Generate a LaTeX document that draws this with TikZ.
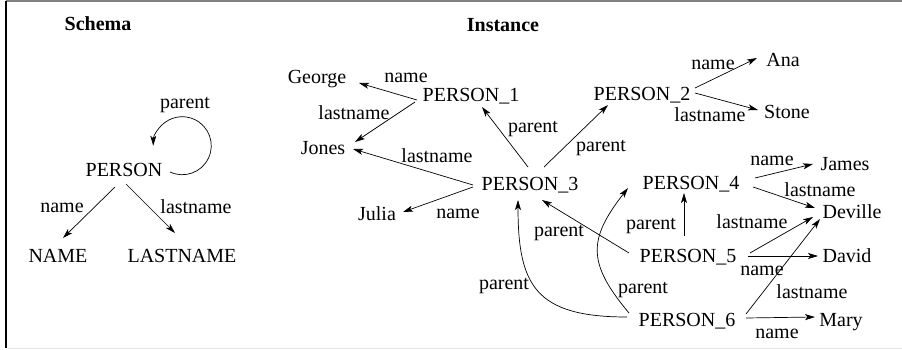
\documentclass[tikz,border=0pt]{standalone}
\usepackage{fontspec}
\setmainfont{Liberation Serif}
\usetikzlibrary{arrows.meta}
\begin{document}
\begin{tikzpicture}[x=1pt,y=1pt,
  nd/.style={inner sep=0pt,text height=13pt,text depth=0pt,font=\fontsize{20}{24}\selectfont},
  lbl/.style={nd},
  ttl/.style={nd,font=\fontsize{20}{24}\selectfont\bfseries},
  arr/.style={-{Stealth[length=10pt,width=6pt,inset=2.5pt]},line width=0.7pt}]
\useasboundingbox (0,0) rectangle (902,-350);
% frame
\draw[line width=1.5pt,gray] (6,-1) -- (902,-1);
\draw[line width=1.5pt,black] (6,-1) -- (6,-348);
\draw[line width=1.5pt,black!10] (8,-348.5) -- (902,-348.5);
% titles
\node[ttl] (tschema) at (98,-24.5) {Schema};
\node[ttl] (tinst) at (503,-25.5) {Instance};
% schema
\node[nd] (person) at (124,-170) {PERSON};
\node[nd] (nm) at (58,-256) {NAME};
\node[nd] (ln) at (182,-256) {LASTNAME};
\node[lbl] (lpar) at (185,-102) {parent};
\node[lbl] (lnm) at (62,-205.5) {name};
\node[lbl] (lln) at (196,-206.5) {lastname};
\draw[arr] ([shift={(-9,-17)}]person.center) -- ([shift={(5,18)}]nm.center);
\draw[arr] ([shift={(2,-14)}]person.center) -- ([shift={(-7,23)}]ln.center);
\draw[arr] ([shift={(46,-2)}]person.center) arc[start angle=-115,end angle=180,radius=29pt];
% instance nodes
\node[nd] (george) at (317,-77) {George};
\node[nd] (p1) at (471,-95) {PERSON\_1};
\node[nd] (jones) at (323,-147.5) {Jones};
\node[nd] (p3) at (530,-184) {PERSON\_3};
\node[nd] (julia) at (377,-213.5) {Julia};
\node[nd] (p2) at (642,-94) {PERSON\_2};
\node[nd] (ana) at (783,-60) {Ana};
\node[nd] (stone) at (787,-112.5) {Stone};
\node[nd] (p4) at (691,-183) {PERSON\_4};
\node[nd] (james) at (845,-164.5) {James};
\node[nd] (deville) at (852,-211.5) {Deville};
\node[nd] (p5) at (688,-256) {PERSON\_5};
\node[nd] (david) at (847,-256) {David};
\node[nd] (p6) at (687,-320) {PERSON\_6};
\node[nd] (mary) at (841,-319.5) {Mary};
% labels
\node[lbl] (l1) at (406,-76.5) {name};
\node[lbl] (l2) at (354,-113.5) {lastname};
\node[lbl] (l3) at (437,-155.5) {lastname};
\node[lbl] (l4) at (458,-211.5) {name};
\node[lbl] (l5) at (533,-126.5) {parent};
\node[lbl] (l6) at (601,-144.5) {parent};
\node[lbl] (l7) at (713,-63.5) {name};
\node[lbl] (l8) at (710,-115) {lastname};
\node[lbl] (l9) at (772,-158.5) {name};
\node[lbl] (l10) at (820,-190) {lastname};
\node[lbl] (l11) at (752,-222) {lastname};
\node[lbl] (l12) at (651,-222.5) {parent};
\node[lbl] (l13) at (559,-229.5) {parent};
\node[lbl] (l14) at (762,-268.5) {name};
\node[lbl] (l15) at (504,-282.5) {parent};
\node[lbl] (l16) at (643,-286.5) {parent};
\node[lbl] (l17) at (812,-291.5) {lastname};
\node[lbl] (l18) at (777,-331.5) {name};
% instance arrows
\draw[arr] ([shift={(-54,-5)}]p1.center) -- ([shift={(42,-6)}]george.center);
\draw[arr] ([shift={(-56,-7)}]p1.center) -- ([shift={(32,5.5)}]jones.center);
\draw[arr] ([shift={(-57,-1)}]p3.center) -- ([shift={(30,-1.5)}]jones.center);
\draw[arr] ([shift={(-57,-3)}]p3.center) -- ([shift={(26,1.5)}]julia.center);
\draw[arr] ([shift={(-2,17)}]p3.center) -- ([shift={(11,-12)}]p1.center);
\draw[arr] ([shift={(14,17)}]p3.center) -- ([shift={(-34,-11)}]p2.center);
\draw[arr] ([shift={(53,6)}]p2.center) -- ([shift={(-26,2)}]ana.center);
\draw[arr] ([shift={(53,1)}]p2.center) -- ([shift={(-29,2.5)}]stone.center);
\draw[arr] ([shift={(64,5)}]p4.center) -- ([shift={(-32,0.5)}]james.center);
\draw[arr] ([shift={(62,-4)}]p4.center) -- ([shift={(-37,3.5)}]deville.center);
\draw[arr] ([shift={(-59,3)}]p5.center) -- ([shift={(12,-16)}]p3.center);
\draw[arr] ([shift={(-4,20)}]p5.center) -- ([shift={(-7,-10)}]p4.center);
\draw[arr] ([shift={(62,3)}]p5.center) -- ([shift={(-39,-5.5)}]deville.center);
\draw[arr] ([shift={(60,0)}]p5.center) -- ([shift={(-29,0)}]david.center);
\draw[arr] ([shift={(59,6)}]p6.center) -- ([shift={(-32,-7.5)}]deville.center);
\draw[arr] ([shift={(59,2)}]p6.center) -- ([shift={(-26,2.5)}]mary.center);
\draw[arr] ([shift={(-60,3)}]p6.center) .. controls +(-92,0) and +(0,-85) .. ([shift={(-12,-16)}]p3.center);
\draw[arr] ([shift={(-58,7)}]p6.center) to[out=130,in=-128,looseness=1.33] ([shift={(-63,-5)}]p4.center);
\end{tikzpicture}
\end{document}
